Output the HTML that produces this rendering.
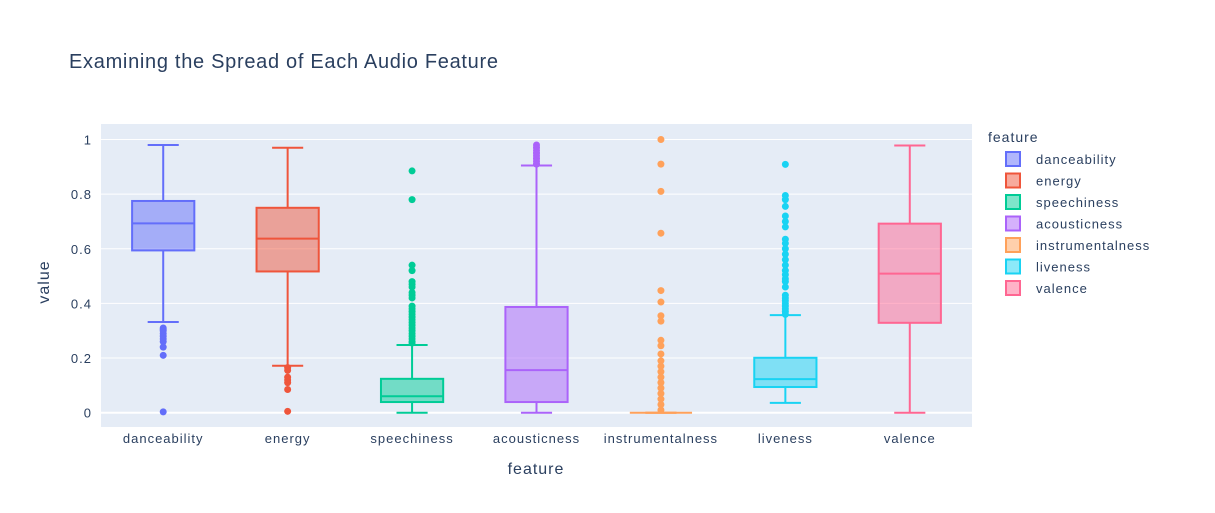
<!DOCTYPE html>
<html><head><meta charset="utf-8">
<style>
body{margin:0;background:#fff;font-family:"Liberation Sans",Arial,sans-serif;}
svg text{font-family:"Liberation Sans",Arial,sans-serif;fill:#2a3f5f;}
.sm{letter-spacing:1px;}
</style></head>
<body>
<svg id="chart" width="1215" height="508" xmlns="http://www.w3.org/2000/svg">
<rect width="1215" height="508" fill="#fff"/>
<text x="69" y="68" font-size="20" style="letter-spacing:0.7px">Examining the Spread of Each Audio Feature</text>
<rect x="101" y="124" width="871" height="303" fill="#e5ecf6"/>
<g id="grid"></g>
<g id="boxes"></g>
<g id="xticks"></g>
<text x="536" y="474" font-size="16" class="sm" text-anchor="middle">feature</text>
<text x="0" y="0" font-size="16" class="sm" text-anchor="middle" transform="translate(49,282) rotate(-90)">value</text>
<text x="988" y="142" font-size="14" class="sm">feature</text>
<g id="legend"></g>
</svg>
<script>
const categories=["danceability","energy","speechiness","acousticness","instrumentalness","liveness","valence"];
const colors=["#636efa","#EF553B","#00cc96","#ab63fa","#FFA15A","#19d3f3","#FF6692"];
const lowerWhisker=[0.332,0.172,0,0,0,0.036,0];
const q1=[0.594,0.517,0.039,0.039,0,0.094,0.329];
const median=[0.693,0.637,0.060,0.156,0,0.123,0.509];
const q3=[0.775,0.750,0.124,0.387,0,0.201,0.692];
const upperWhisker=[0.98,0.97,0.248,0.905,0,0.357,0.978];
const outliersDance=[0.31,0.305,0.30,0.29,0.28,0.27,0.26,0.24,0.21,0.003];
const outliersEnergy=[0.165,0.155,0.13,0.12,0.11,0.085,0.005];
const outliersSpeech=[0.885,0.78,0.54,0.52,0.48,0.47,0.46,0.44,0.43,0.42,0.39,0.38,0.37,0.36,0.35,0.34,0.33,0.32,0.31,0.30,0.29,0.28,0.27,0.26,0.255];
const outliersAcoustic=[0.98,0.97,0.96,0.95,0.94,0.93,0.92,0.91];
const outliersInstr=[1.0,0.91,0.81,0.657,0.447,0.405,0.355,0.335,0.265,0.245,0.215,0.19,0.17,0.15,0.13,0.11,0.09,0.07,0.05,0.03,0.01];
const outliersLive=[0.909,0.795,0.78,0.755,0.72,0.70,0.68,0.635,0.62,0.60,0.58,0.56,0.54,0.52,0.505,0.49,0.48,0.46,0.43,0.42,0.41,0.40,0.39,0.38,0.37,0.36];
const outliersVal=[];
const outliers=[outliersDance,outliersEnergy,outliersSpeech,outliersAcoustic,outliersInstr,outliersLive,outliersVal];
const yTicks=[0,0.2,0.4,0.6,0.8,1];
const yTickLabels=["0","0.2","0.4","0.6","0.8","1"];

const NS="http://www.w3.org/2000/svg";
const PX=101,PW=871;
function y(v){return 412.7-v*273.2;}
function xc(i){return PX+PW/categories.length*(i+0.5);}
const band=PW/categories.length;
function mk(tag,attrs,parent){const e=document.createElementNS(NS,tag);for(const k in attrs)e.setAttribute(k,attrs[k]);parent.appendChild(e);return e;}
const grid=document.getElementById('grid');
yTicks.forEach((t,i)=>{
  const l=mk('line',{x1:PX,x2:PX+PW,y1:y(t),y2:y(t),stroke:'#fff','stroke-width':t===0?2:1},grid);
  
  
  const tx=mk('text',{x:92,y:y(t)+5,'font-size':13,'text-anchor':'end',class:'sm'},grid);
  tx.textContent=yTickLabels[i];
  
  
});
const boxes=document.getElementById('boxes');
const xt=document.getElementById('xticks');
categories.forEach((c,i)=>{
  const g=mk('g',{},boxes);
  
  
  const cx=xc(i),bw=band/2,cw=band/4,col=colors[i];
  mk('line',{x1:cx,x2:cx,y1:y(upperWhisker[i]),y2:y(q3[i]),stroke:col,'stroke-width':2},g);
  mk('line',{x1:cx,x2:cx,y1:y(q1[i]),y2:y(lowerWhisker[i]),stroke:col,'stroke-width':2},g);
  mk('line',{x1:cx-cw/2,x2:cx+cw/2,y1:y(upperWhisker[i]),y2:y(upperWhisker[i]),stroke:col,'stroke-width':2},g);
  mk('line',{x1:cx-cw/2,x2:cx+cw/2,y1:y(lowerWhisker[i]),y2:y(lowerWhisker[i]),stroke:col,'stroke-width':2},g);
  mk('rect',{x:cx-bw/2,y:y(q3[i]),width:bw,height:Math.max(0,y(q1[i])-y(q3[i])),fill:col,'fill-opacity':0.5,stroke:col,'stroke-width':2},g);
  mk('line',{x1:cx-bw/2,x2:cx+bw/2,y1:y(median[i]),y2:y(median[i]),stroke:col,'stroke-width':2},g);
  outliers[i].forEach(v=>{
    const p=mk('circle',{cx:cx,cy:y(v),r:3.5,fill:col},g);
    
    
  });
  const t=mk('text',{x:cx,y:443,'font-size':13,'text-anchor':'middle',class:'sm'},xt);
  t.textContent=c;
  
  
  const lg=document.getElementById('legend');
  const e=mk('g',{},lg);
  
  
  const ly=159+i*21.5;
  mk('rect',{x:1006,y:ly-7,width:14,height:14,fill:col,'fill-opacity':0.5,stroke:col,'stroke-width':2},e);
  const lt=mk('text',{x:1036,y:ly+5,'font-size':13,class:'sm'},e);
  lt.textContent=c;
});
</script>
</body></html>
